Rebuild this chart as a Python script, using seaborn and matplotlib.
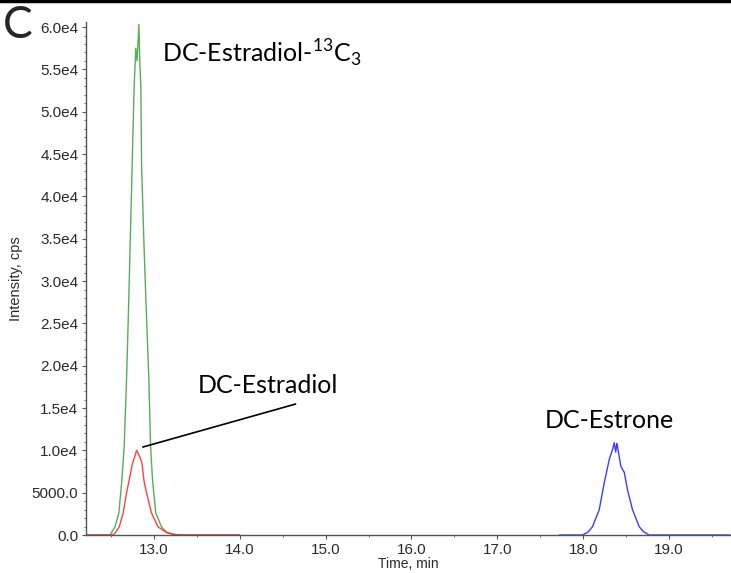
import matplotlib
matplotlib.use("Agg")
import matplotlib.pyplot as plt
from matplotlib.lines import Line2D
from matplotlib.ticker import MultipleLocator
import seaborn as sns

# Extracted ion chromatograms (time in min, intensity in cps)
green_time = [12.21, 12.30, 12.40, 12.49, 12.547, 12.593, 12.628, 12.655, 12.683, 12.709,
              12.748, 12.771, 12.79, 12.805, 12.826, 12.838, 12.849, 12.857, 12.88, 12.907,
              12.942, 12.962, 12.985, 13.023, 13.09, 13.15, 13.22, 13.30, 13.50, 13.80, 14.0]
green_int = [0, 0, 0, 0, 950, 2600, 6500, 10500, 18500, 28000,
             43800, 53000, 57500, 56000, 60300, 55500, 53000, 43800, 36000, 28000,
             18500, 10500, 6500, 2600, 950, 300, 100, 0, 0, 0, 0]

red_time = [12.21, 12.35, 12.512, 12.547, 12.597, 12.643, 12.683, 12.713, 12.752, 12.78,
            12.799, 12.82, 12.857, 12.868, 12.884, 12.915, 12.973, 13.05, 13.148, 13.244,
            13.36, 13.60, 13.80, 14.0]
red_int = [0, 0, 0, 200, 950, 2600, 5000, 6500, 8500, 9300,
           10000, 9600, 8700, 8000, 6500, 5000, 2600, 950, 300, 50,
           0, 0, 0, 0]

blue_time = [17.72, 17.85, 17.988, 18.05, 18.108, 18.186, 18.244, 18.302, 18.341, 18.36,
             18.378, 18.39, 18.398, 18.438, 18.477, 18.515, 18.573, 18.651, 18.70, 18.767,
             19.0, 19.3, 19.71]
blue_int = [0, 0, 0, 300, 990, 3000, 6150, 8900, 10100, 10900,
            9800, 10800, 10500, 8100, 7400, 5350, 3000, 990, 400, 0,
            0, 0, 0]

x_ticks = [13.0, 14.0, 15.0, 16.0, 17.0, 18.0, 19.0]
x_tick_labels = ["13.0", "14.0", "15.0", "16.0", "17.0", "18.0", "19.0"]
y_ticks = [0, 5000, 10000, 15000, 20000, 25000, 30000, 35000, 40000, 45000, 50000, 55000, 60000]
y_tick_labels = ["0.0", "5000.0", "1.0e4", "1.5e4", "2.0e4", "2.5e4", "3.0e4",
                 "3.5e4", "4.0e4", "4.5e4", "5.0e4", "5.5e4", "6.0e4"]

sns.set_style("ticks")
plt.rcParams["font.family"] = ["Liberation Sans", "DejaVu Sans"]
plt.rcParams["mathtext.fontset"] = "custom"
plt.rcParams["mathtext.rm"] = "Lato"

fig = plt.figure(figsize=(7.31, 5.73), dpi=100)
ax = fig.add_axes([0.1176, 0.0663, 0.8824, 0.8953])

sns.lineplot(x=green_time, y=green_int, ax=ax, color="#3c9e3c", lw=1.0,
             estimator=None, sort=False, alpha=0.85)
sns.lineplot(x=red_time, y=red_int, ax=ax, color="#ff2020", lw=1.0,
             estimator=None, sort=False, alpha=0.85)
sns.lineplot(x=blue_time, y=blue_int, ax=ax, color="#1a1aff", lw=1.0,
             estimator=None, sort=False, alpha=0.85)

ax.set_xlim(12.21, 19.72)
ax.set_ylim(0, 60600)
ax.set_xticks(x_ticks)
ax.set_xticklabels(x_tick_labels)
ax.set_yticks(y_ticks)
ax.set_yticklabels(y_tick_labels)
ax.xaxis.set_minor_locator(MultipleLocator(0.5))
ax.yaxis.set_minor_locator(MultipleLocator(1000))

axis_color = "#555555"
for side in ["top", "right"]:
    ax.spines[side].set_visible(False)
for side in ["left", "bottom"]:
    ax.spines[side].set_color(axis_color)
    ax.spines[side].set_linewidth(1.0)
ax.tick_params(axis="both", which="major", length=3, width=0.8, color=axis_color,
               labelsize=11, labelcolor="#2a2a2a", pad=2.5)
ax.tick_params(axis="both", which="minor", length=1.5, width=0.6, color=axis_color)

ax.set_xlabel("Time, min", fontsize=10, color="#2a2a2a", labelpad=0)
ax.set_ylabel("Intensity, cps", fontsize=10.5, color="#2a2a2a", labelpad=6)

# Peak annotations
label_font = "Lato"
ax.text(13.093, 55860, "DC-Estradiol-$^{\\mathregular{13}}$C$_{\\mathregular{3}}$",
        fontsize=18, family=label_font, ha="left", va="baseline", color="black")
ax.text(13.512, 16770, "DC-Estradiol", fontsize=18, family=label_font,
        ha="left", va="baseline", color="black")
ax.text(17.547, 12600, "DC-Estrone", fontsize=18, family=label_font,
        ha="left", va="baseline", color="black")
ax.plot([12.872, 14.65], [10390, 15470], color="black", lw=1.2)

# Panel letter and top rule
fig.text(0.004, 0.992, "C", fontsize=32, family=label_font, ha="left", va="top")
fig.add_artist(Line2D([0, 1], [0.998, 0.998], color="black", lw=2.5,
                      transform=fig.transFigure))

fig.savefig("out.png", dpi=100)
